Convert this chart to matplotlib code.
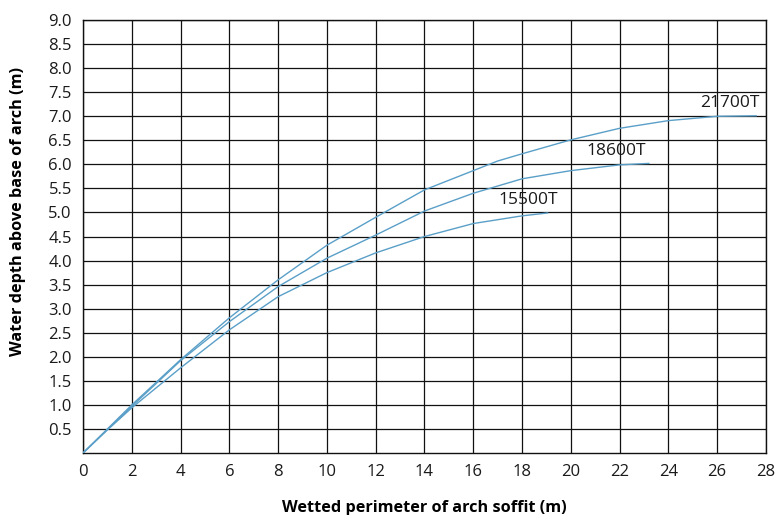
import matplotlib
matplotlib.use("Agg")
import matplotlib.pyplot as plt

plt.rcParams['font.family'] = ['Open Sans', 'DejaVu Sans']

# readings from the chart (wetted perimeter m, water depth m)
x_21700 = [0, 1, 2, 4, 6, 8, 10, 12, 14, 16, 17, 18, 20, 22, 24, 26, 27.6]
y_21700 = [0, 0.5, 1.0, 1.94, 2.81, 3.6, 4.32, 4.90, 5.47, 5.87, 6.07, 6.22, 6.51, 6.75, 6.91, 7.0, 7.01]
x_18600 = [0, 1, 2, 4, 6, 8, 10, 12, 14, 16, 18, 20, 22, 23.2]
y_18600 = [0, 0.49, 0.97, 1.92, 2.73, 3.46, 4.05, 4.53, 5.03, 5.40, 5.70, 5.87, 5.99, 6.02]
x_15500 = [0, 1, 2, 4, 6, 8, 10, 12, 14, 16, 18, 19.05]
y_15500 = [0, 0.48, 0.94, 1.77, 2.56, 3.25, 3.75, 4.16, 4.50, 4.77, 4.93, 4.99]

labels = ['21700T', '18600T', '15500T']
label_pos = [(26.5, 7.28), (21.85, 6.27), (18.25, 5.27)]

x_ticks = list(range(0, 29, 2))
y_ticks = [i * 0.5 for i in range(1, 19)]

fig = plt.figure(figsize=(7.76, 5.15), dpi=100)
ax = fig.add_axes([0.107, 0.1204, 0.88, 0.8406])

line_col = '#5a9fc8'
for xs, ys in [(x_21700, y_21700), (x_18600, y_18600), (x_15500, y_15500)]:
    ax.plot(xs, ys, color=line_col, linewidth=1.0, zorder=3)

for txt, (tx, ty) in zip(labels, label_pos):
    ax.text(tx, ty, txt, fontsize=12.5, ha='center', va='center', color='#1a1a1a', zorder=4)

ax.set_xlim(0, 28)
ax.set_ylim(0, 9)
ax.set_xticks(x_ticks)
ax.set_yticks(y_ticks)
ax.set_yticklabels(['%.1f' % v for v in y_ticks])
ax.grid(True, color='#111111', linewidth=0.9)
ax.set_axisbelow(True)
ax.tick_params(length=0, labelsize=12, colors='#1a1a1a', pad=8)
for s in ax.spines.values():
    s.set_color('#111111')
    s.set_linewidth(1.0)

ax.set_xlabel('Wetted perimeter of arch soffit (m)', fontsize=11.7, fontweight='bold', labelpad=14)
ax.set_ylabel('Water depth above base of arch (m)', fontsize=11.7, fontweight='bold')
ax.yaxis.set_label_coords(-0.083, 0.557)

fig.savefig('out.png', dpi=100)
